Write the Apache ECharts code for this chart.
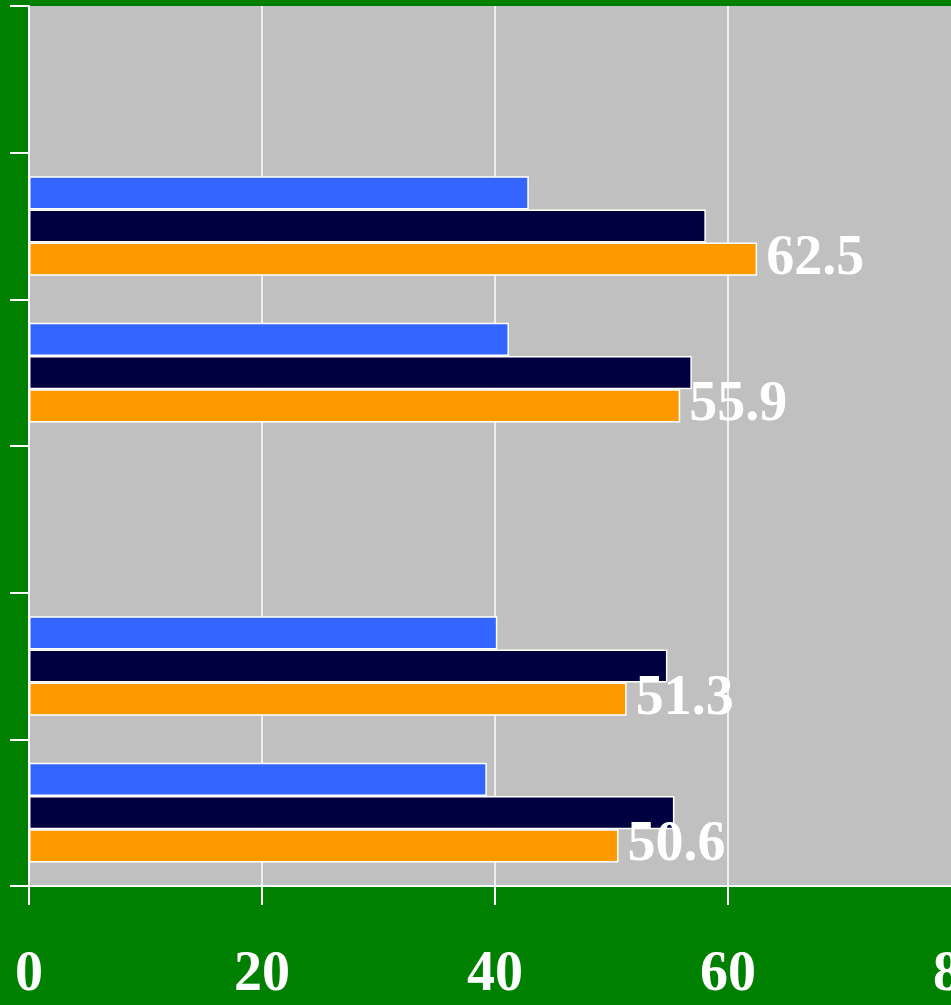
<!DOCTYPE html>
<html>
<head>
<meta charset="utf-8">
<script src="https://cdn.jsdelivr.net/npm/echarts@6/dist/echarts.min.js"></script>
<style>
  html, body { margin: 0; padding: 0; background: #008000; }
  #chart { width: 951px; height: 1005px; }
</style>
</head>
<body>
<div id="chart"></div>
<script>
// categories from bottom to top; two of them are empty
const categories = ['c1', 'c2', 'c3', 'c4', 'c5', 'c6'];
const xTicks = [0, 20, 40, 60, 80];
// first series is drawn at the top of each group
const blueValues = [39.3, 40.2, null, 41.2, 42.9, null];
const navyValues = [55.4, 54.8, null, 56.9, 58.1, null];
const orangeValues = [50.6, 51.3, null, 55.9, 62.5, null];

const labelFont = 'Liberation Serif, Times New Roman, serif';

const chart = echarts.init(document.getElementById('chart'));

const option = {
  backgroundColor: '#008000',
  animation: false,
  grid: {
    left: 29,
    right: -10,
    top: 6,
    bottom: 119,
    containLabel: false,
    outerBoundsMode: 'none',
    show: true,
    backgroundColor: '#c0c0c0',
    borderWidth: 0
  },
  xAxis: {
    type: 'value',
    min: xTicks[0],
    max: xTicks[xTicks.length - 1],
    interval: 20,
    axisLine: { show: true, lineStyle: { color: '#ffffff', width: 2 } },
    axisTick: { show: true, length: 19, lineStyle: { color: '#ffffff', width: 2 } },
    axisLabel: {
      color: '#ffffff',
      fontFamily: labelFont,
      fontWeight: 'bold',
      fontSize: 56,
      margin: 62,
      hideOverlap: false
    },
    splitLine: { show: true, lineStyle: { color: '#ffffff', width: 1.5 } }
  },
  yAxis: {
    type: 'category',
    data: categories,
    axisLine: { show: true, lineStyle: { color: '#ffffff', width: 2 } },
    axisTick: { show: true, length: 19, lineStyle: { color: '#ffffff', width: 2 } },
    axisLabel: { show: false },
    splitLine: { show: false }
  },
  series: [
    {
      name: 'blue',
      type: 'bar',
      data: blueValues,
      barGap: '0%',
      barCategoryGap: '32%',
      itemStyle: { color: '#3366ff', borderColor: '#ffffff', borderWidth: 1.5 }
    },
    {
      name: 'navy',
      type: 'bar',
      data: navyValues,
      barGap: '0%',
      barCategoryGap: '32%',
      itemStyle: { color: '#000040', borderColor: '#ffffff', borderWidth: 1.5 }
    },
    {
      name: 'orange',
      type: 'bar',
      data: orangeValues,
      barGap: '0%',
      barCategoryGap: '32%',
      itemStyle: { color: '#ff9900', borderColor: '#ffffff', borderWidth: 1.5 },
      label: {
        show: true,
        position: 'right',
        distance: 9,
        color: '#ffffff',
        fontFamily: labelFont,
        fontWeight: 'bold',
        fontSize: 56,
        formatter: p => p.value.toFixed(1)
      }
    }
  ]
};

chart.setOption(option);
</script>
</body>
</html>
